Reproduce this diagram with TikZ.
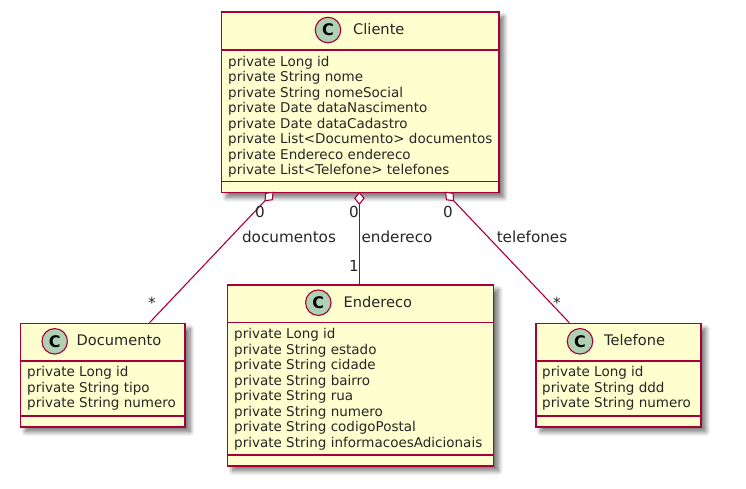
\documentclass[tikz,border=0pt]{standalone}
\usepackage{fontspec}
\setmainfont{DejaVu Sans}
\usetikzlibrary{arrows.meta,shadows.blur,calc}
\definecolor{umlfill}{HTML}{FEFECE}
\definecolor{umlline}{HTML}{A80036}
\definecolor{umlspot}{HTML}{ADD1B2}
\definecolor{umltext}{HTML}{262626}
\tikzset{
  x=1pt,y=-1pt,
  classbox/.style={draw=umlline,fill=umlfill,line width=1.6pt,anchor=north west,inner sep=0pt,
    blur shadow={shadow xshift=5pt,shadow yshift=-5pt,shadow blur steps=10,shadow blur radius=4.5pt,shadow opacity=55}},
  divider/.style={draw=umlline,line width=1.5pt},
  spot/.style={circle,draw=umlline,fill=umlspot,line width=1.1pt,minimum size=25.5pt,inner sep=0pt,
    font=\fontsize{16}{16}\selectfont\bfseries,text=black},
  title/.style={font=\fontsize{14.6}{15}\selectfont,text=umltext,inner sep=0pt,anchor=mid west},
  members/.style={font=\fontsize{13.5}{15.5}\selectfont,text=umltext,inner sep=0pt,anchor=north west,align=left},
  assoc/.style={draw=umlline,line width=1.1pt},
  aggr/.style={assoc,{Diamond[open,fill=white,length=13.3pt,width=10.6pt,line width=1.1pt]}-},
  lbl/.style={font=\fontsize{15.2}{15}\selectfont,text=umltext,inner sep=0pt}
}
\begin{document}
\begin{tikzpicture}
\useasboundingbox (0,0) rectangle (746,489);
% Cliente
\node[classbox,minimum width=277.5pt,minimum height=180.7pt] (cliente) at (220.5,11) {};
\draw[divider] (220.5,50) -- (498,50) (220.5,181.7) -- (498,181.7);
\node[spot] (cspot) at (328,30) {C};
\node[title] (ctitle) at (353,31.5) {Cliente};
\node[members] (cmembers) at (228,55.6) {private Long id\\private String nome\\private String nomeSocial\\private Date dataNascimento\\private Date dataCadastro\\private List<Documento> documentos\\private Endereco endereco\\private List<Telefone> telefones};
% Documento
\node[classbox,minimum width=164.6pt,minimum height=103.3pt] (documento) at (19.7,322.7) {};
\draw[divider] (19.7,361) -- (184.3,361) (19.7,416) -- (184.3,416);
\node[spot] (dspot) at (54.7,341.3) {C};
\node[title] (dtitle) at (76.5,343.2) {Documento};
\node[members] (dmembers) at (27,366.4) {private Long id\\private String tipo\\private String numero};
% Endereco
\node[classbox,minimum width=266pt,minimum height=181pt] (endereco) at (226.7,284) {};
\draw[divider] (226.7,322.7) -- (492.7,322.7) (226.7,455) -- (492.7,455);
\node[spot] (espot) at (318.3,302.7) {C};
\node[title] (etitle) at (343.5,304.7) {Endereco};
\node[members] (emembers) at (234,328.2) {private Long id\\private String estado\\private String cidade\\private String bairro\\private String rua\\private String numero\\private String codigoPostal\\private String informacoesAdicionais};
% Telefone
\node[classbox,minimum width=165pt,minimum height=103.3pt] (telefone) at (535,322.7) {};
\draw[divider] (535,361) -- (700,361) (535,416) -- (700,416);
\node[spot] (tspot) at (580,341.3) {C};
\node[title] (ttitle) at (604,343.2) {Telefone};
\node[members] (tmembers) at (542,366.4) {private Long id\\private String ddd\\private String numero};
% connector ends
\coordinate (a1) at (273.6,191.7);
\coordinate (b1) at (149.5,322.7);
\coordinate (a2) at (359.4,191.7);
\coordinate (b2) at (359.4,284);
\coordinate (a3) at (445.1,191.7);
\coordinate (b3) at (569.3,322.7);
\draw[aggr] (a1) -- (b1);
\draw[aggr] (a2) -- (b2);
\draw[aggr] (a3) -- (b3);
% labels
\node[lbl] (l1) at (260,212) {0};
\node[lbl] (l2) at (289,237) {documentos};
\node[lbl] (l3) at (152,303) {*};
\node[lbl] (l4) at (354,212) {0};
\node[lbl] (l5) at (397,237) {endereco};
\node[lbl] (l6) at (354,266) {1};
\node[lbl] (l7) at (448,212) {0};
\node[lbl] (l8) at (532,237) {telefones};
\node[lbl] (l9) at (557,303) {*};
\end{tikzpicture}
\end{document}
